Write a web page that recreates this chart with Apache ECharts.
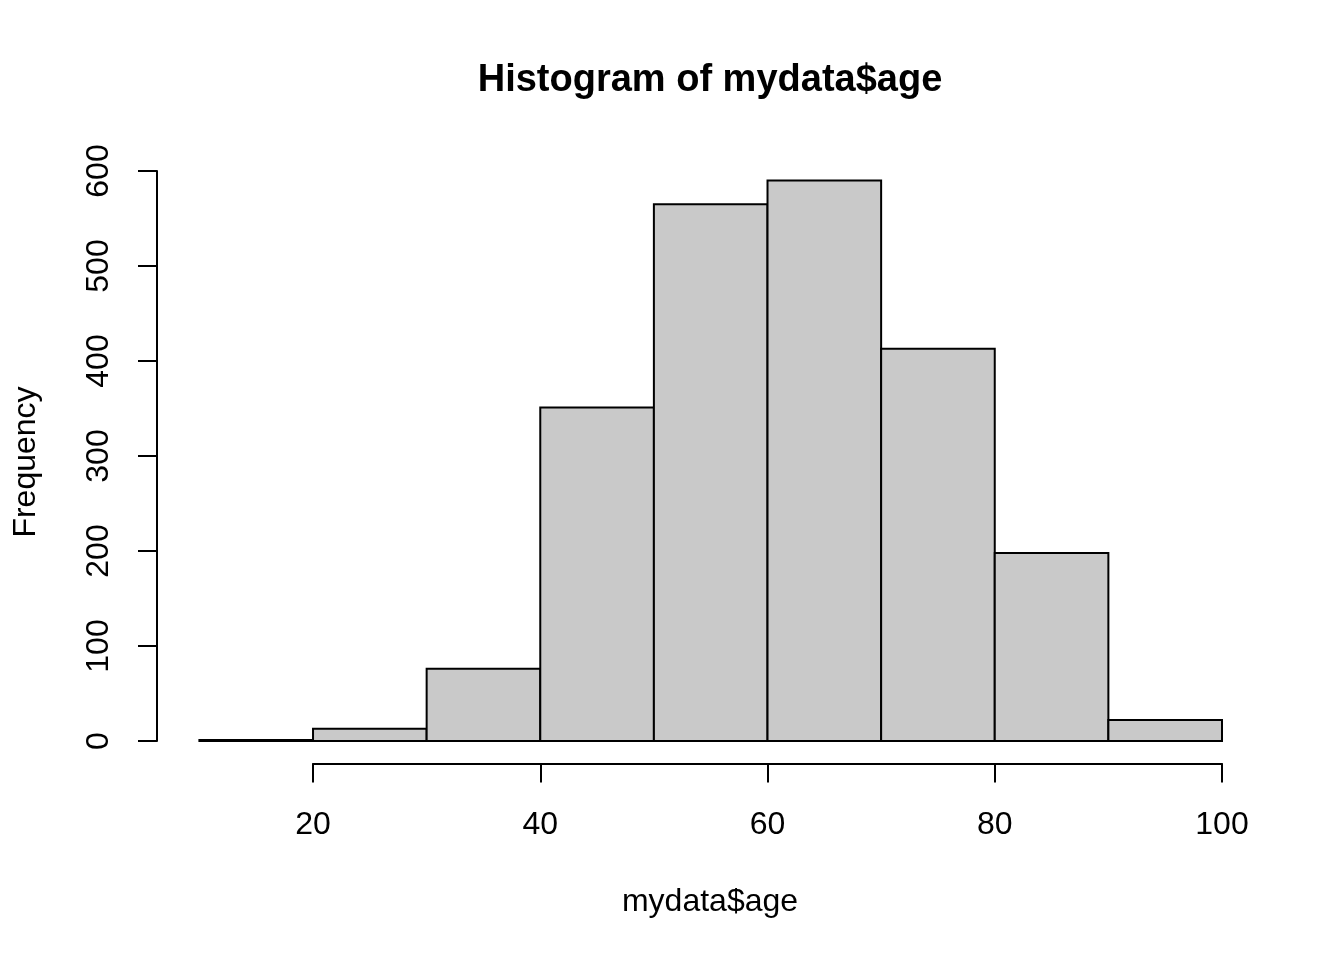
<!DOCTYPE html>
<html>
<head>
<meta charset="utf-8">
<script src="https://cdn.jsdelivr.net/npm/echarts@6/dist/echarts.min.js"></script>
<style>html,body{margin:0;padding:0;background:#fff}#c{width:1344px;height:960px}</style>
</head>
<body>
<div id="c"></div>
<script>
const titleText = 'Histogram of mydata$age';
const xLabel = 'mydata$age';
const yLabel = 'Frequency';
const breaks = [10, 20, 30, 40, 50, 60, 70, 80, 90, 100];
const counts = [1, 13, 76, 351, 565, 590, 413, 198, 22];
const xTicks = [20, 40, 60, 80, 100];
const yTicks = [0, 100, 200, 300, 400, 500, 600];

const FONT = '"Liberation Sans", Arial, Helvetica, sans-serif';
const bins = counts.map((c, i) => [breaks[i], breaks[i + 1], c]);
const xMinD = breaks[0], xMaxD = breaks[breaks.length - 1];
const yMaxD = Math.max(...counts);
const xPad = (xMaxD - xMinD) * 0.04, yPad = yMaxD * 0.04;

const chart = echarts.init(document.getElementById('c'), null, {renderer: 'canvas'});
const plotLeft = 158.5, plotRight = 81.1, plotTop = 158.1, plotBottom = 196.6;
const plotW = 1344 - plotLeft - plotRight, plotH = 960 - plotTop - plotBottom;
const xScale = plotW / ((xMaxD + xPad) - (xMinD - xPad));
const yScale = plotH / (yMaxD + 2 * yPad);
const px = v => plotLeft + (v - (xMinD - xPad)) * xScale;
const py = v => plotTop + ((yMaxD + yPad) - v) * yScale;

const yTop = py(yTicks[yTicks.length - 1]), yBot = py(yTicks[0]);
const xL = px(xTicks[0]), xR = px(xTicks[xTicks.length - 1]);
const axisY = 960 - plotBottom;

const axisStyle = {lineStyle: {color: '#000', width: 2}};
chart.setOption({
  animation: false,
  backgroundColor: '#fff',
  grid: [
    {left: plotLeft, top: plotTop, width: plotW, height: plotH},
    {left: 157, top: yTop, width: 10, height: yBot - yTop},
    {left: xL, top: axisY - 50, width: xR - xL, height: 50}
  ],
  xAxis: [
    {gridIndex: 0, type: 'value', min: xMinD - xPad, max: xMaxD + xPad, show: false},
    {gridIndex: 1, type: 'value', show: false},
    {gridIndex: 2, type: 'value', min: xTicks[0], max: xTicks[xTicks.length - 1], interval: 20,
     position: 'bottom', axisLine: {show: true, ...axisStyle},
     axisTick: {show: true, length: 19, inside: false, lineStyle: {color: '#000', width: 2}},
     axisLabel: {show: true, margin: 46, color: '#000', fontSize: 32, fontFamily: FONT},
     splitLine: {show: false}}
  ],
  yAxis: [
    {gridIndex: 0, type: 'value', min: -yPad, max: yMaxD + yPad, show: false},
    {gridIndex: 1, type: 'value', min: yTicks[0], max: yTicks[yTicks.length - 1], interval: 100,
     position: 'left', axisLine: {show: true, ...axisStyle},
     axisTick: {show: true, length: 19, inside: false, lineStyle: {color: '#000', width: 2}},
     axisLabel: {show: true, rotate: 90, margin: 42, color: '#000', fontSize: 32, fontFamily: FONT},
     splitLine: {show: false}},
    {gridIndex: 2, type: 'value', show: false}
  ],
  series: [{
    type: 'custom',
    xAxisIndex: 0, yAxisIndex: 0,
    data: bins,
    renderItem: function (params, api) {
      const p0 = api.coord([api.value(0), api.value(2)]);
      const p1 = api.coord([api.value(1), 0]);
      return {
        type: 'rect',
        shape: {x: p0[0], y: p0[1], width: p1[0] - p0[0], height: p1[1] - p0[1]},
        style: {fill: '#c9c9c9', stroke: '#000', lineWidth: 2}
      };
    }
  }],
  graphic: [
    {type: 'text', x: 710, y: 81, style: {text: titleText, x: 0, y: 0, textAlign: 'center', textVerticalAlign: 'middle',
      font: 'bold 38px ' + FONT, fill: '#000'}},
    {type: 'text', x: 710, y: 902, style: {text: xLabel, x: 0, y: 0, textAlign: 'center', textVerticalAlign: 'middle',
      font: '32px ' + FONT, fill: '#000'}},
    {type: 'text', rotation: Math.PI / 2, x: 26, y: 462, style: {text: yLabel, x: 0, y: 0, textAlign: 'center', textVerticalAlign: 'middle',
      font: '32px ' + FONT, fill: '#000'}}
  ]
});
</script>
</body>
</html>
